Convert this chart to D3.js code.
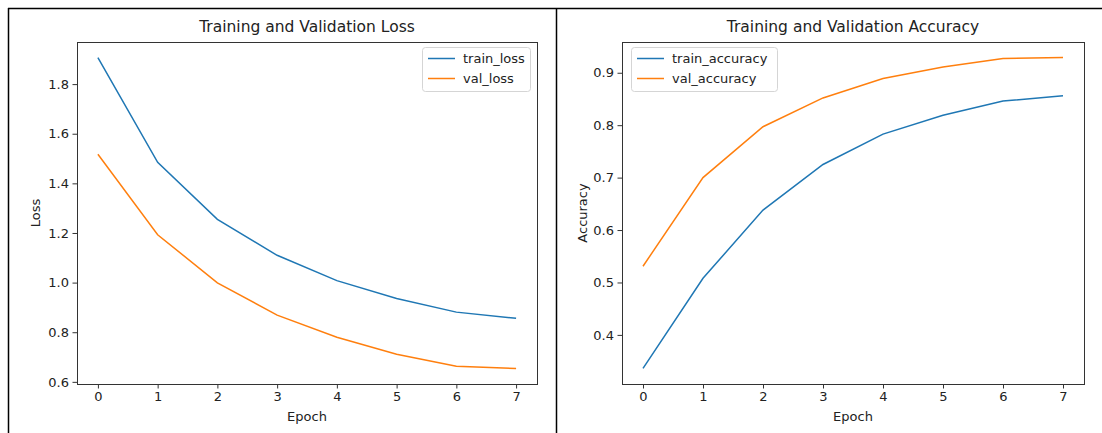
<!DOCTYPE html>
<html>
<head>
<meta charset="utf-8">
<script src="https://cdn.jsdelivr.net/npm/d3@7"></script>
<style>
  body { margin: 0; background: #fff; }
  svg { display: block; font-family: "DejaVu Sans", sans-serif; }
</style>
</head>
<body>
<script>
var epochs = [0, 1, 2, 3, 4, 5, 6, 7];
var trainLoss = [1.907, 1.485, 1.255, 1.110, 1.008, 0.936, 0.881, 0.856];
var valLoss = [1.517, 1.193, 0.999, 0.869, 0.780, 0.711, 0.663, 0.654];
var trainAcc = [0.336, 0.508, 0.638, 0.725, 0.783, 0.819, 0.846, 0.856];
var valAcc = [0.531, 0.700, 0.797, 0.852, 0.889, 0.911, 0.927, 0.929];
var lossTicks = [0.6, 0.8, 1.0, 1.2, 1.4, 1.6, 1.8];
var accTicks = [0.4, 0.5, 0.6, 0.7, 0.8, 0.9];

var blue = "#1f77b4", orange = "#ff7f0e";

var svg = d3.select("body").append("svg").attr("width", 1102).attr("height", 433);

// outer frame lines of the two pictures
svg.append("line").attr("x1", 8).attr("x2", 1102).attr("y1", 8.5).attr("y2", 8.5).attr("stroke", "#000").attr("stroke-width", 1.5);
svg.append("line").attr("x1", 8.5).attr("x2", 8.5).attr("y1", 8).attr("y2", 433).attr("stroke", "#000").attr("stroke-width", 1.5);
svg.append("line").attr("x1", 556.5).attr("x2", 556.5).attr("y1", 8).attr("y2", 433).attr("stroke", "#000").attr("stroke-width", 1.5);

function panel(opt) {
  var g = svg.append("g");
  var all = opt.series[0].values.concat(opt.series[1].values);
  var lo = d3.min(all), hi = d3.max(all), pad = (hi - lo) * 0.05;

  var x = d3.scaleLinear().domain([-0.35, 7.35]).range([opt.left, opt.right]);
  var y = d3.scaleLinear().domain([lo - pad, hi + pad]).range([opt.bottom, opt.top]);

  var line = d3.line().x(function(d, i) { return x(epochs[i]); }).y(function(d) { return y(d); });

  opt.series.forEach(function(s) {
    g.append("path").datum(s.values)
      .attr("d", line)
      .attr("fill", "none")
      .attr("stroke", s.color)
      .attr("stroke-width", 1.5);
  });

  var xAxis = g.append("g").attr("transform", "translate(0," + opt.bottom + ")")
    .call(d3.axisBottom(x).tickValues(epochs).tickFormat(d3.format("d")).tickSize(4.5).tickPadding(3));
  var yAxis = g.append("g").attr("transform", "translate(" + opt.left + ",0)")
    .call(d3.axisLeft(y).tickValues(opt.ticks).tickFormat(d3.format(".1f")).tickSize(4.5).tickPadding(3.5));
  [xAxis, yAxis].forEach(function(a) {
    a.select(".domain").remove();
    a.selectAll("line").attr("stroke", "#333");
    a.selectAll("text").attr("fill", "#222").style("font-size", "13px").style("font-family", "DejaVu Sans");
  });

  g.append("rect")
    .attr("x", opt.left + 0.5).attr("y", opt.top + 0.5)
    .attr("width", opt.right - opt.left).attr("height", opt.bottom - opt.top)
    .attr("fill", "none").attr("stroke", "#333").attr("stroke-width", 1);

  g.append("text").attr("x", (opt.left + opt.right) / 2).attr("y", opt.top - 10)
    .attr("text-anchor", "middle").style("font-size", "15.5px").attr("fill", "#222").text(opt.title);
  g.append("text").attr("x", (opt.left + opt.right) / 2).attr("y", 421)
    .attr("text-anchor", "middle").style("font-size", "13px").attr("fill", "#222").text("Epoch");
  g.append("text")
    .attr("transform", "translate(" + opt.ylabelX + "," + ((opt.top + opt.bottom) / 2) + ") rotate(-90)")
    .attr("text-anchor", "middle").style("font-size", "13px").attr("fill", "#222").text(opt.ylabel);

  // legend
  var lg = g.append("g").attr("transform", "translate(" + opt.legend.x + "," + opt.legend.y + ")");
  lg.append("rect").attr("x", 0.5).attr("y", 0.5).attr("rx", 3)
    .attr("width", opt.legend.w).attr("height", 44)
    .attr("fill", "#fff").attr("fill-opacity", 0.8).attr("stroke", "#d5d5d5");
  opt.series.forEach(function(s, i) {
    var yy = 11.5 + i * 20;
    lg.append("line").attr("x1", 6).attr("x2", 33).attr("y1", yy).attr("y2", yy)
      .attr("stroke", s.color).attr("stroke-width", 1.5);
    lg.append("text").attr("x", 41).attr("y", yy + 4.5)
      .style("font-size", "13px").attr("fill", "#222").text(s.name);
  });
}

panel({
  left: 77, right: 537, top: 42, bottom: 384,
  title: "Training and Validation Loss", ylabel: "Loss", ylabelX: 40,
  ticks: lossTicks,
  series: [{ name: "train_loss", values: trainLoss, color: blue },
           { name: "val_loss", values: valLoss, color: orange }],
  legend: { x: 422, y: 47, w: 108 }
});

panel({
  left: 622, right: 1084, top: 42, bottom: 384,
  title: "Training and Validation Accuracy", ylabel: "Accuracy", ylabelX: 587,
  ticks: accTicks,
  series: [{ name: "train_accuracy", values: trainAcc, color: blue },
           { name: "val_accuracy", values: valAcc, color: orange }],
  legend: { x: 631, y: 47, w: 146 }
});
</script>
</body>
</html>
